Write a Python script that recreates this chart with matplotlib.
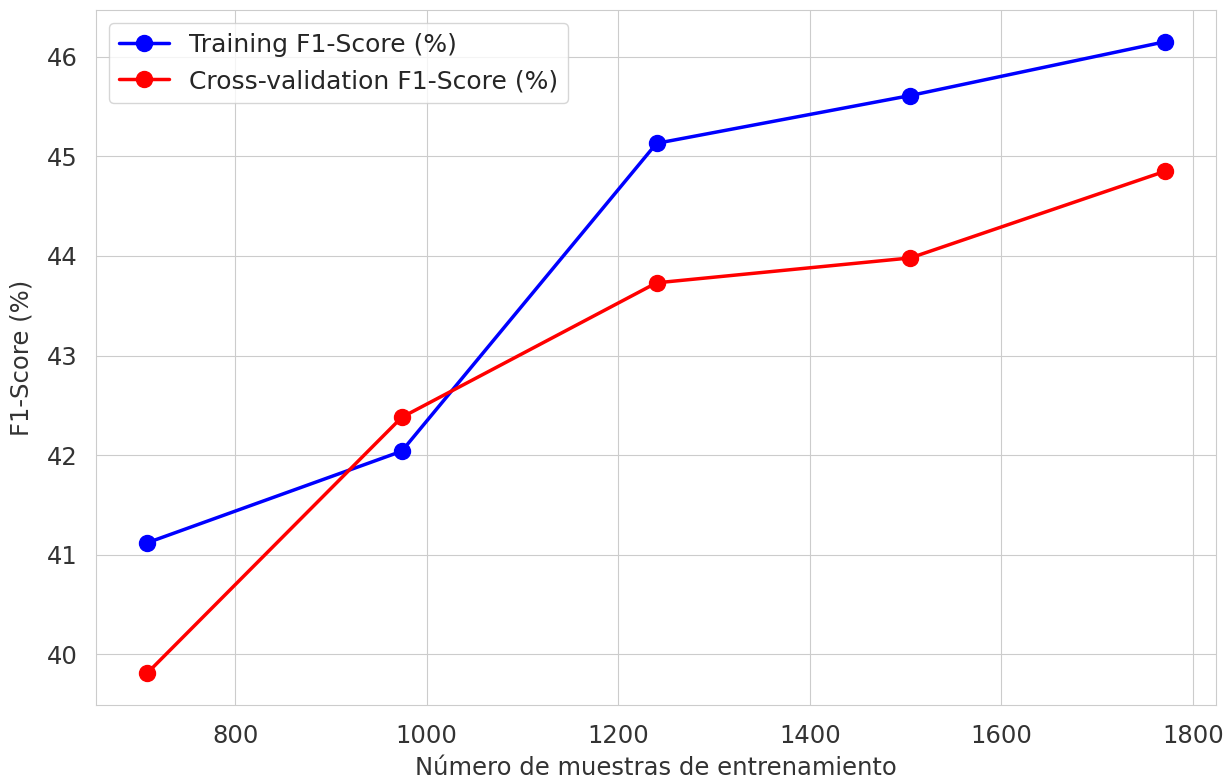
import matplotlib
matplotlib.use("Agg")
import matplotlib.pyplot as plt
import seaborn as sns

sns.set_style("whitegrid")

train_sizes = [708, 974, 1240, 1505, 1771]
train_f1 = [41.12, 42.04, 45.13, 45.61, 46.15]
cv_f1 = [39.81, 42.38, 43.73, 43.98, 44.85]

fig = plt.figure(figsize=(12.25, 7.8), dpi=100)
ax = fig.add_axes([0.0784, 0.0962, 0.9143, 0.8908])

ax.plot(train_sizes, train_f1, "o-", color="blue", lw=2.5, ms=11.5,
        label="Training F1-Score (%)")
ax.plot(train_sizes, cv_f1, "o-", color="red", lw=2.5, ms=11.5,
        label="Cross-validation F1-Score (%)")

ax.set_xlabel("Número de muestras de entrenamiento", fontsize=17.5, color="#333333",
              labelpad=6)
ax.set_ylabel("F1-Score (%)", fontsize=17.5, color="#333333", labelpad=9)
ax.tick_params(labelsize=17.5, colors="#333333", pad=10)
ax.legend(loc="upper left", fontsize=18)

fig.savefig("out.png", dpi=100)
